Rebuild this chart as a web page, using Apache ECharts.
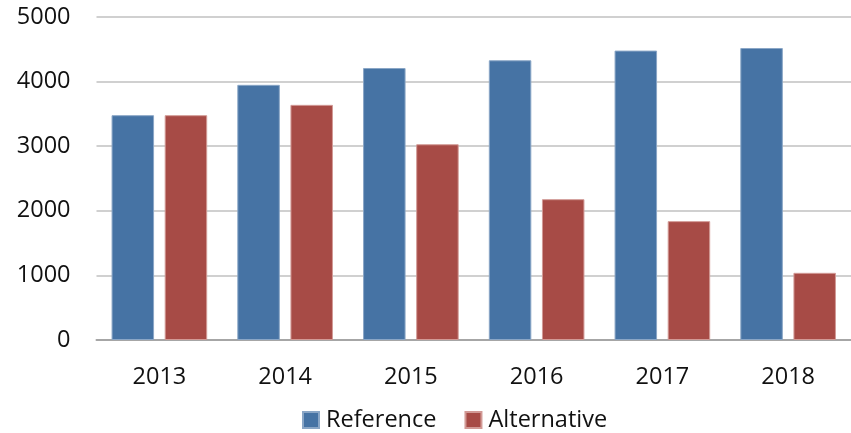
<!DOCTYPE html>
<html>
<head>
<meta charset="utf-8">
<script src="https://cdn.jsdelivr.net/npm/echarts@6/dist/echarts.min.js"></script>
<style>
  html, body { margin: 0; padding: 0; background: #ffffff; }
  #chart { width: 851px; height: 433px; }
</style>
</head>
<body>
<div id="chart"></div>
<script>
// Yearly values for the two scenarios
const years = ['2013', '2014', '2015', '2016', '2017', '2018'];
const referenceValues = [3480, 3950, 4210, 4330, 4480, 4520];
const alternativeValues = [3480, 3640, 3030, 2180, 1840, 1040];
const yTicks = [0, 1000, 2000, 3000, 4000, 5000];

const FONT = '"Open Sans", "Liberation Sans", sans-serif';

const chart = echarts.init(document.getElementById('chart'), null, { renderer: 'canvas' });

chart.setOption({
  animation: false,
  backgroundColor: '#ffffff',
  grid: { left: 96.5, top: 17, width: 768, height: 323, containLabel: false },
  legend: {
    left: 297,
    top: 403,
    itemWidth: 16,
    itemHeight: 16,
    itemGap: 28,
    icon: 'rect',
    textStyle: { fontFamily: FONT, fontSize: 23.5, color: '#111111', padding: [0, 0, 0, 2] },
    data: ['Reference', 'Alternative']
  },
  xAxis: {
    type: 'category',
    data: years,
    axisLine: { lineStyle: { color: '#a6a6a6', width: 2 } },
    axisTick: { show: false },
    axisLabel: { fontFamily: FONT, fontSize: 23.5, color: '#111111', margin: 25 },
    splitLine: { show: false }
  },
  yAxis: {
    type: 'value',
    min: yTicks[0],
    max: yTicks[yTicks.length - 1],
    interval: 1000,
    axisLine: { show: false },
    axisTick: { show: false },
    axisLabel: {
      fontFamily: FONT, fontSize: 23.5, color: '#111111', margin: 26,
      formatter: (v) => String(v)
    },
    splitLine: { lineStyle: { color: '#d0d0d0', width: 2 } }
  },
  series: [
    {
      name: 'Reference',
      type: 'bar',
      data: referenceValues,
      barWidth: 42.5,
      barGap: '25%',
      itemStyle: { color: '#4673a4', borderColor: '#8aa6c6', borderWidth: 1 }
    },
    {
      name: 'Alternative',
      type: 'bar',
      data: alternativeValues,
      barWidth: 42.5,
      barGap: '25%',
      itemStyle: { color: '#a74b46', borderColor: '#d29a96', borderWidth: 1 }
    }
  ]
});
</script>
</body>
</html>
